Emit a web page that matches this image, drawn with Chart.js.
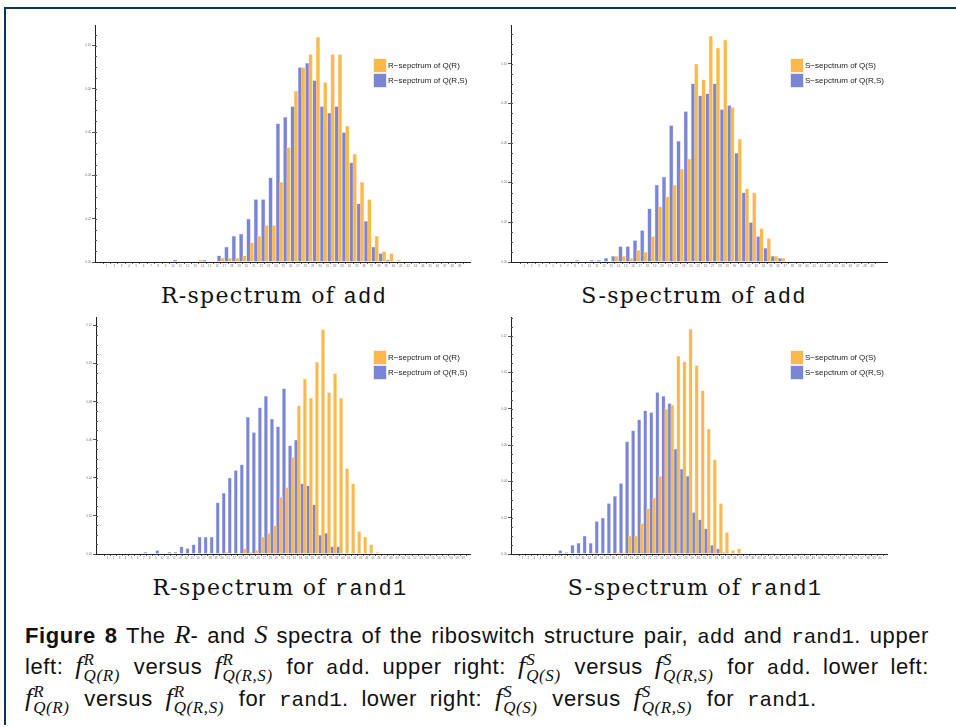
<!DOCTYPE html>
<html>
<head>
<meta charset="utf-8">
<script src="https://cdn.jsdelivr.net/npm/chart.js@4.4.1/dist/chart.umd.min.js"></script>
<style>
  body { margin: 0; background: #fff; width: 956px; height: 727px; overflow: hidden; position: relative; font-family: "Liberation Sans", Arial, sans-serif; color: #111; }
  .frame { position: absolute; left: 4px; top: 7px; width: 970px; height: 716px; border-left: 2px solid #07365f; border-top: 2px solid #07365f; }
  canvas { position: absolute; }
  .lbl { position: absolute; font-family: "DejaVu Serif", "Liberation Serif", serif; font-size: 22px; line-height: 24px; letter-spacing: 1.3px; white-space: nowrap; transform: translateX(-50%); }
  .tt { font-family: "Liberation Mono", "DejaVu Sans Mono", monospace; }
  .cap { position: absolute; left: 25px; width: 904px; font-size: 22px; line-height: 26px; letter-spacing: 0.6px; white-space: nowrap; }
  .just { text-align: justify; text-align-last: justify; }
  .cap .tt { letter-spacing: 0; font-size: 21px; }
  .mi { font-family: "Liberation Serif", "DejaVu Serif", serif; font-style: italic; font-size: 26px; letter-spacing: 0; }
  .ss { display: inline-block; vertical-align: -7px; font-size: 17px; line-height: 16px; letter-spacing: 0.6px; margin-left: 1px; margin-right: 2px; }
  .ss span { display: block; }
</style>
</head>
<body>
<div class="frame"></div>

<canvas id="c1" width="411" height="255" style="left:65px;top:19px"></canvas>
<canvas id="c2" width="412" height="255" style="left:481px;top:19px"></canvas>
<canvas id="c3" width="410" height="255" style="left:66px;top:311px"></canvas>
<canvas id="c4" width="412" height="255" style="left:481px;top:311px"></canvas>

<div class="lbl" style="left:274px;top:284px">R-spectrum of <span class="tt">add</span></div>
<div class="lbl" style="left:694px;top:284px">S-spectrum of <span class="tt">add</span></div>
<div class="lbl" style="left:280px;top:576px">R-spectrum of <span class="tt">rand1</span></div>
<div class="lbl" style="left:695px;top:576px">S-spectrum of <span class="tt">rand1</span></div>

<div class="cap just" style="top:622px"><b>Figure 8</b> The <span class="mi">R</span>- and <span class="mi">S</span> spectra of the riboswitch structure pair, <span class="tt">add</span> and <span class="tt">rand1</span>. upper</div>
<div class="cap just" style="top:652px">left: <span class="mi">f</span><span class="ss mi"><span>R</span><span>Q(R)</span></span> versus <span class="mi">f</span><span class="ss mi"><span>R</span><span>Q(R,S)</span></span> for <span class="tt">add</span>. upper right: <span class="mi">f</span><span class="ss mi"><span>S</span><span>Q(S)</span></span> versus <span class="mi">f</span><span class="ss mi"><span>S</span><span>Q(R,S)</span></span> for <span class="tt">add</span>. lower left:</div>
<div class="cap" style="top:684px;word-spacing:6px"><span class="mi">f</span><span class="ss mi"><span>R</span><span>Q(R)</span></span> versus <span class="mi">f</span><span class="ss mi"><span>R</span><span>Q(R,S)</span></span> for <span class="tt">rand1</span>. lower right: <span class="mi">f</span><span class="ss mi"><span>S</span><span>Q(S)</span></span> versus <span class="mi">f</span><span class="ss mi"><span>S</span><span>Q(R,S)</span></span> for <span class="tt">rand1</span>.</div>

<script>
// bin labels (too small to read in the original)
const binsAdd = [1,2,3,4,5,6,7,8,9,10,11,12,13,14,15,16,17,18,19,20,21,22,23,24,25,26,27,28,29,30,31,32,33,34,35,36,37,38,39,40,41,42,43,44,45,46,47,48,49];
const binsRand = [1,2,3,4,5,6,7,8,9,10,11,12,13,14,15,16,17,18,19,20,21,22,23,24,25,26,27,28,29,30,31,32,33,34,35,36,37,38,39,40,41,42,43,44,45,46,47,48,49,50,51,52,53,54,55,56,57,58,59,60];
const yTicks = [0, 0.02, 0.04, 0.06, 0.08, 0.10, 0.12];

const legendR = ['R\u2212sepctrum of Q(R)', 'R\u2212sepctrum of Q(R,S)'];
const legendS = ['S\u2212sepctrum of Q(S)', 'S\u2212sepctrum of Q(R,S)'];

// add: R-spectrum
const addRQR  = [0,0,0,0,0,0,0,0,0,0, 0,0,0,.001,0,0,.002,.002,.002,.003, .009,.012,.017,.017,.037,.053,.079,.090,.096,.104, .083,.096,.096,.063,.050,.037,.029,.012,.005,.004, .001,0,0,0,0,0,0,0,0];
const addRQRS = [0,0,0,0,0,0,0,0,0,.001, 0,0,0,.001,0,.003,.007,.012,.013,.020, .029,.029,.039,.064,.067,.072,.090,.092,.084,.072, .069,.072,.060,.046,.027,.019,.007,.004,.001,0, 0,0,0,0,0,0,0,0,0];
// add: S-spectrum
const addSQS  = [0,0,0,0,0,0,0,0,0,0, 0,0,0,.003,.003,.002,.006,.005,.013,.028, .033,.039,.047,.052,.100,.092,.114,.108,.112,.078, .062,.037,.035,.017,.012,.003,.002,0,0,0, 0,0,0,0,0,0,0,0,0];
const addSQRS = [0,0,0,0,0,0,0,.001,0,.001, .001,.002,.003,.008,.008,.011,.016,.027,.039,.043, .069,.061,.076,.090,.084,.085,.090,.077,.079,.055, .035,.020,.013,.007,.003,.002,0,0,0,0, 0,0,0,0,0,0,0,0,0];
// rand1: R-spectrum
const randRQR  = [0,0,0,0,0,0,0,0,0,0, 0,0,0,0,0,0,0,0,0,0, .001,0,0,.003,.001,.002,.009,.011,.015,.030, .035,.051,.078,.092,.082,.101,.118,.085,.095,.082, .045,.037,.012,.009,.005,.001,0,0,0,0, 0,0,0,0,0,0,0,0,0,0];
const randRQRS = [0,0,0,0,0,0,.001,0,.002,0, .001,.001,.004,.003,.005,.009,.009,.009,.027,.032, .040,.044,.047,.072,.064,.077,.083,.071,.067,.087, .057,.060,.037,.036,.026,.010,.011,.004,.004,0, 0,0,0,0,0,0,0,0,0,0, 0,0,0,0,0,0,0,0,0,0];
// rand1: S-spectrum
const randSQS  = [0,0,0,0,0,0,0,0,0,0, 0,0,.001,0,0,0,.001,.001,.010,.010, .017,.025,.031,.043,.080,.082,.109,.106,.124,.104, .090,.069,.052,.028,.012,.002,.003,0,0,0, 0,0,0,0,0,0,0,0,0,0, 0,0,0,0,0,0,0,0,0,0];
const randSQRS = [0,0,0,0,0,0,.002,.001,.005,.006, .010,.006,.018,.020,.028,.032,.039,.062,.068,.074, .079,.078,.089,.087,.083,.058,.047,.043,.023,.019, .014,.005,.003,.001,0,0,0,0,0,0, 0,0,0,0,0,0,0,0,0,0, 0,0,0,0,0,0,0,0,0,0];

const orange = 'rgb(251,185,76)';
const blue = 'rgb(122,133,215)';
const orangeEdge = 'rgb(254,214,150)';
const blueEdge = 'rgb(178,186,236)';

const toPoints = vals => vals.map((v, i) => ({ x: i, y: v })).filter(p => p.y > 0);

// little inward minor ticks on the y axis + the legend box
const extras = {
  id: 'extras',
  afterDraw(chart) {
    const { ctx, chartArea, scales } = chart;
    const y = scales.y;
    ctx.save();
    ctx.strokeStyle = '#555';
    ctx.lineWidth = 1;
    for (let v = 0.005; v < y.max; v += 0.005) {
      const py = Math.round(y.getPixelForValue(v)) + 0.5;
      ctx.beginPath();
      ctx.moveTo(chartArea.left, py);
      ctx.lineTo(chartArea.left + 2, py);
      ctx.stroke();
    }
    const lx = chartArea.right - 97, ly = chartArea.top + 33;
    ctx.font = '8px "Liberation Sans", Arial, sans-serif';
    ctx.textBaseline = 'middle';
    chart.data.datasets.forEach((ds, k) => {
      ctx.fillStyle = ds.backgroundColor;
      ctx.fillRect(lx, ly + k * 15, 14, 15);
      ctx.strokeStyle = 'rgba(255,255,255,0.8)';
      ctx.strokeRect(lx + 0.5, ly + k * 15 + 0.5, 13, 14);
      ctx.fillStyle = '#222';
      ctx.fillText(ds.label, lx + 15, ly + k * 15 + 7.5);
    });
    ctx.restore();
  }
};

function histo(id, bins, a, b, names, xmin, xmax, ymax, catPct, barPct) {
  return new Chart(document.getElementById(id), {
    type: 'bar',
    data: {
      datasets: [
        { label: names[0], data: toPoints(a), backgroundColor: orange, borderColor: orangeEdge, borderWidth: 0.5 },
        { label: names[1], data: toPoints(b), backgroundColor: blue, borderColor: blueEdge, borderWidth: 0.5 }
      ]
    },
    options: {
      responsive: false,
      animation: false,
      devicePixelRatio: 1,
      categoryPercentage: catPct,
      barPercentage: barPct,
      layout: { padding: { left: 0, right: 6, top: 6, bottom: 0 } },
      plugins: { legend: { display: false }, tooltip: { enabled: false } },
      scales: {
        x: {
          type: 'linear', min: xmin, max: xmax,
          afterBuildTicks: s => { s.ticks = bins.map((c, i) => ({ value: i })); },
          afterFit: s => { s.height = 12; },
          ticks: { autoSkip: false, maxRotation: 0, padding: 0, font: { size: 3 }, color: '#777',
                   callback: (v, i) => bins[i] },
          grid: { display: true, drawOnChartArea: false, tickLength: 2, color: '#666' },
          border: { display: true, color: '#222', width: 1 }
        },
        y: {
          min: 0, max: ymax,
          afterBuildTicks: s => { s.ticks = yTicks.filter(t => t <= ymax).map(t => ({ value: t })); },
          afterFit: s => { s.width = 30; },
          ticks: { padding: 1, font: { size: 3 }, color: '#777', callback: v => v.toFixed(2) },
          grid: { display: true, drawOnChartArea: false, tickLength: 3, color: '#555' },
          border: { display: true, color: '#222', width: 1 }
        }
      }
    },
    plugins: [extras]
  });
}

histo('c1', binsAdd, addRQR, addRQRS, legendR, -1.1, 48.9, 0.1095, 1.1, 1.05);
histo('c2', binsAdd, addSQS, addSQRS, legendS, -1.3, 49.5, 0.1195, 1.1, 1.05);
histo('c3', binsRand, randRQR, randRQRS, legendR, -1.4, 59.6, 0.1245, 1.07, 1.2);
histo('c4', binsRand, randSQS, randSQRS, legendS, -1.35, 59.6, 0.1305, 1.07, 1.2);
</script>
</body>
</html>
